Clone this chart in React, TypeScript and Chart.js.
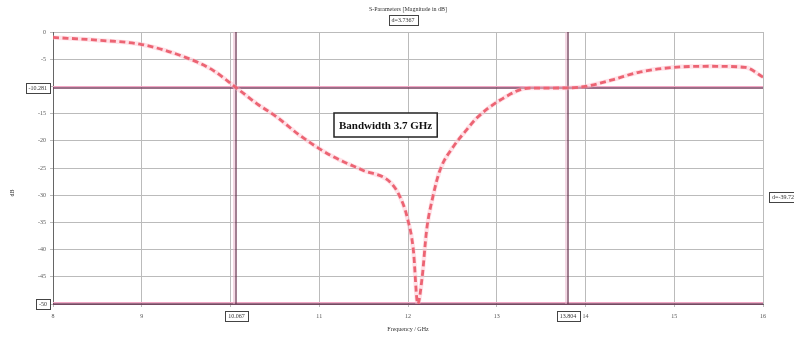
import React, { useEffect, useRef } from "react";
import { Chart, registerables } from "chart.js";

Chart.register(...registerables);

const freqGHz: number[] = [
  8.0, 8.5, 9.0, 9.5, 9.8, 10.067, 10.3, 10.52, 10.78, 11.12, 11.49, 11.8, 11.91, 11.99,
  12.06, 12.11, 12.16, 12.21, 12.28, 12.36, 12.51, 12.66, 12.77, 13.04, 13.37, 13.6,
  13.804, 14.0, 14.3, 14.6, 15.0, 15.4, 15.8, 16.0,
];
const s11dB: number[] = [
  -1.0, -1.5, -2.3, -4.7, -7.0, -10.28, -13.2, -15.6, -19.0, -22.6, -25.4, -27.6, -30.3, -34,
  -40, -50, -45, -36.4, -30.3, -25.4, -21.1, -18.0, -15.9, -12.5, -10.3, -10.3,
  -10.28, -10.0, -8.8, -7.4, -6.5, -6.3, -6.5, -8.3,
];
const markerFreqs: number[] = [10.067, 13.804];
const markerFreqLabels: string[] = ["10.067", "13.804"];
const markerLevels: number[] = [-10.281, -50];
const markerLevelLabels: string[] = ["-10.281", "-50"];
const titleText = "S-Parameters [Magnitude in dB]";
const deltaXText = "d=3.7367";
const deltaYText = "d=-39.72";
const noteText = "Bandwidth 3.7 GHz";
const xTitle = "Frequency / GHz";
const yTitle = "dB";

function boxText(ctx: CanvasRenderingContext2D, text: string, cx: number, cy: number, font: string) {
  ctx.save();
  ctx.font = font;
  const w = ctx.measureText(text).width + 6;
  const h = 10;
  ctx.fillStyle = "#ffffff";
  ctx.fillRect(cx - w / 2, cy - h / 2, w, h);
  ctx.strokeStyle = "#444";
  ctx.lineWidth = 1;
  ctx.strokeRect(Math.round(cx - w / 2) + 0.5, Math.round(cy - h / 2) + 0.5, Math.round(w), h);
  ctx.fillStyle = "#333";
  ctx.textAlign = "center";
  ctx.textBaseline = "middle";
  ctx.fillText(text, cx, cy + 0.5);
  ctx.restore();
}

const markersPlugin = {
  id: "markers",
  beforeDatasetsDraw(chart: any) {
    const { ctx, chartArea: a, scales } = chart;
    const xs = scales.x;
    const ys = scales.y;
    ctx.save();
    markerLevels.forEach((lv) => {
      const y = Math.round(ys.getPixelForValue(lv));
      ctx.strokeStyle = "#f2a6c4";
      ctx.lineWidth = 1;
      ctx.beginPath();
      ctx.moveTo(a.left, y - 1.5);
      ctx.lineTo(a.right, y - 1.5);
      ctx.stroke();
      ctx.strokeStyle = "#7a4060";
      ctx.lineWidth = 1.3;
      ctx.beginPath();
      ctx.moveTo(a.left, y);
      ctx.lineTo(a.right, y);
      ctx.stroke();
    });
    markerFreqs.forEach((f) => {
      const x = Math.round(xs.getPixelForValue(f));
      ctx.strokeStyle = "#e8b0c8";
      ctx.lineWidth = 1;
      ctx.beginPath();
      ctx.moveTo(x - 2, a.top);
      ctx.lineTo(x - 2, a.bottom);
      ctx.stroke();
      ctx.strokeStyle = "#6e3a55";
      ctx.lineWidth = 1.3;
      ctx.beginPath();
      ctx.moveTo(x, a.top);
      ctx.lineTo(x, a.bottom);
      ctx.stroke();
    });
    ctx.restore();
  },
  afterDraw(chart: any) {
    const { ctx, chartArea: a, scales } = chart;
    const xs = scales.x;
    const ys = scales.y;
    const small = "6px 'Liberation Serif', serif";
    markerLevels.forEach((lv, i) => {
      const y = ys.getPixelForValue(lv);
      ctx.save();
      ctx.font = small;
      const w = ctx.measureText(markerLevelLabels[i]).width + 6;
      ctx.restore();
      boxText(ctx, markerLevelLabels[i], a.left - 3 - w / 2, y, small);
    });
    markerFreqs.forEach((f, i) => {
      const x = xs.getPixelForValue(f);
      boxText(ctx, markerFreqLabels[i], x, a.bottom + 12, small);
    });
    ctx.save();
    ctx.fillStyle = "#333";
    ctx.font = small;
    ctx.textAlign = "center";
    ctx.textBaseline = "middle";
    ctx.fillText(titleText, (a.left + a.right) / 2, 9);
    ctx.fillText(xTitle, (a.left + a.right) / 2, 329);
    ctx.translate(12, (a.top + a.bottom) / 2 + 25);
    ctx.rotate(-Math.PI / 2);
    ctx.fillText(yTitle, 0, 0);
    ctx.restore();
    boxText(ctx, deltaXText, 403, 20, small);
    boxText(ctx, deltaYText, a.right + 20, ys.getPixelForValue(-30.3), small);
    ctx.save();
    ctx.font = "bold 11px 'Liberation Serif', 'Times New Roman', serif";
    const tw = ctx.measureText(noteText).width;
    const bx = 334;
    const by = 113;
    const bw = tw + 10;
    const bh = 24;
    ctx.fillStyle = "#ffffff";
    ctx.fillRect(bx, by, bw, bh);
    ctx.strokeStyle = "#222";
    ctx.lineWidth = 1.5;
    ctx.strokeRect(bx, by, bw, bh);
    ctx.fillStyle = "#111";
    ctx.textBaseline = "middle";
    ctx.fillText(noteText, bx + 5, by + bh / 2 + 1);
    ctx.restore();
  },
};

export default function App() {
  const ref = useRef<HTMLCanvasElement | null>(null);
  useEffect(() => {
    document.body.style.margin = "0";
    const canvas = ref.current;
    if (!canvas) return;
    const points = freqGHz.map((f, i) => ({ x: f, y: s11dB[i] }));
    const chart = new Chart(canvas, {
      type: "line",
      data: {
        datasets: [
          {
            data: points,
            borderColor: "rgba(255,190,205,0.45)",
            borderWidth: 4.5,
            pointRadius: 0,
            cubicInterpolationMode: "monotone",
            fill: false,
          },
          {
            data: points,
            borderColor: "#dd1a2a",
            borderWidth: 2.8,
            borderDash: [6, 3.5],
            pointRadius: 0,
            cubicInterpolationMode: "monotone",
            fill: false,
          },
        ],
      },
      options: {
        responsive: false,
        animation: false,
        layout: { padding: { left: 0, right: 31, top: 32, bottom: 0 } },
        plugins: { legend: { display: false }, tooltip: { enabled: false } },
        scales: {
          x: {
            type: "linear",
            min: 8,
            max: 16,
            ticks: {
              stepSize: 1,
              color: "#555",
              font: { size: 6, family: "'Liberation Serif', serif" },
              padding: 6,
              maxRotation: 0,
              callback: (v: any) => (v === 10 ? "" : String(v)),
            },
            grid: { color: "#bbbbbb", lineWidth: 1, drawTicks: true, tickLength: 3 },
            border: { color: "#666", width: 1 },
            afterFit: (s: any) => {
              s.height = 35;
            },
          },
          y: {
            min: -50,
            max: 0,
            ticks: {
              stepSize: 5,
              color: "#555",
              font: { size: 6, family: "'Liberation Serif', serif" },
              padding: 4,
              callback: (v: any) => (v === -10 || v === -50 ? "" : String(v)),
            },
            grid: { color: "#bbbbbb", lineWidth: 1, tickLength: 3 },
            border: { color: "#666", width: 1 },
            afterFit: (s: any) => {
              s.width = 53;
            },
          },
        },
      },
      plugins: [markersPlugin],
    } as any);
    return () => chart.destroy();
  }, []);
  return <canvas ref={ref} width={794} height={339} style={{ display: "block" }} />;
}
